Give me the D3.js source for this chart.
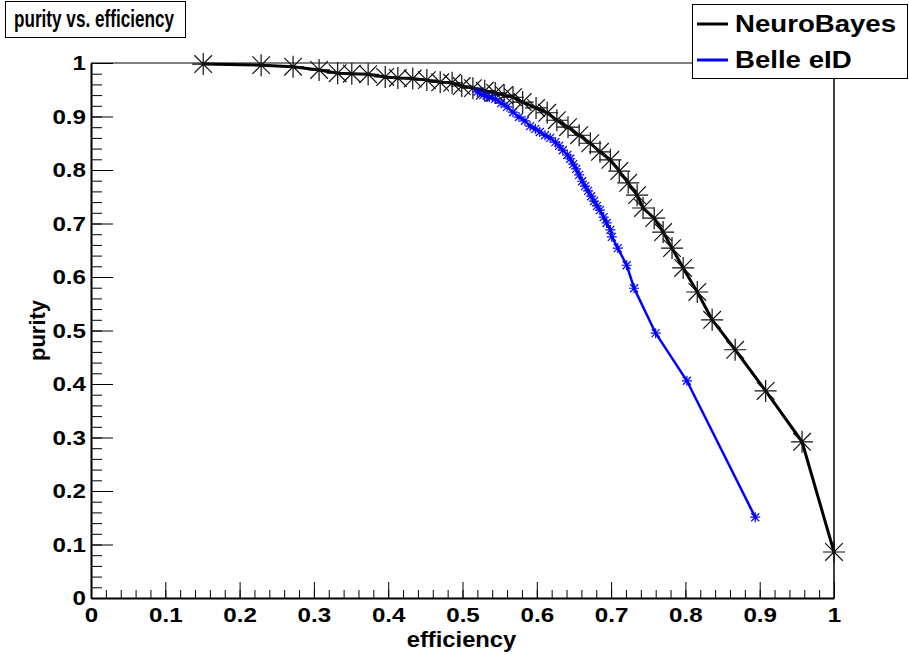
<!DOCTYPE html>
<html>
<head>
<meta charset="utf-8">
<script src="https://cdn.jsdelivr.net/npm/d3@7"></script>
<style>
body { margin: 0; background: #fff; }
text { font-family: "Liberation Sans", Arial, sans-serif; font-weight: bold; }
</style>
</head>
<body>
<div id="chart"></div>
<script>
// NeuroBayes curve
var effNB = [0.151, 0.229, 0.272, 0.307, 0.332, 0.351, 0.373, 0.396, 0.413, 0.433,
  0.452, 0.470, 0.486, 0.499, 0.514, 0.530, 0.544, 0.556, 0.568, 0.581,
  0.599, 0.614, 0.627, 0.642, 0.657, 0.672, 0.685, 0.699, 0.711, 0.723,
  0.735, 0.743, 0.758, 0.770, 0.782, 0.797, 0.816, 0.836, 0.867, 0.908,
  0.957, 1.000];
var purNB = [0.998, 0.996, 0.993, 0.987, 0.981, 0.980, 0.979, 0.974, 0.972, 0.971,
  0.968, 0.964, 0.963, 0.957, 0.953, 0.948, 0.944, 0.940, 0.936, 0.927,
  0.916, 0.907, 0.893, 0.880, 0.865, 0.850, 0.834, 0.819, 0.798, 0.776,
  0.753, 0.729, 0.710, 0.684, 0.654, 0.617, 0.572, 0.520, 0.464, 0.387,
  0.292, 0.086];

// Belle eID curve
var effBelle = [0.520, 0.528, 0.536, 0.544, 0.552, 0.560, 0.568, 0.576, 0.584, 0.591,
  0.598, 0.604, 0.611, 0.618, 0.625, 0.630, 0.635, 0.641, 0.645, 0.649,
  0.653, 0.657, 0.661, 0.665, 0.669, 0.673, 0.677, 0.681, 0.685, 0.690,
  0.694, 0.699, 0.701, 0.709, 0.721, 0.731, 0.760, 0.802, 0.894];
var purBelle = [0.946, 0.940, 0.936, 0.933, 0.925, 0.918, 0.908, 0.899, 0.892, 0.882,
  0.877, 0.871, 0.865, 0.860, 0.852, 0.845, 0.837, 0.828, 0.821, 0.811,
  0.802, 0.791, 0.779, 0.770, 0.761, 0.751, 0.742, 0.733, 0.725, 0.712,
  0.701, 0.688, 0.675, 0.654, 0.622, 0.579, 0.495, 0.406, 0.151];

var xTicks = [0, 0.1, 0.2, 0.3, 0.4, 0.5, 0.6, 0.7, 0.8, 0.9, 1];
var yTicks = [0, 0.1, 0.2, 0.3, 0.4, 0.5, 0.6, 0.7, 0.8, 0.9, 1];
var tickText = ["0", "0.1", "0.2", "0.3", "0.4", "0.5", "0.6", "0.7", "0.8", "0.9", "1"];

var margin = {top: 63, right: 75, bottom: 59, left: 91},
  width = 909 - margin.left - margin.right,
  height = 657 - margin.top - margin.bottom;

var root = d3.select("#chart")
.append("svg")
  .attr("width", 909)
  .attr("height", 657);

var svg = root.append("g")
  .attr("transform", "translate(" + margin.left + "," + margin.top + ")");

var x = d3.scaleLinear().domain([0, 1]).range([0, width]);
var y = d3.scaleLinear().domain([0, 1]).range([height, 0]);

// stretch text sideways a bit, ROOT fonts come out wider than Arial
function stretch(sel, k) {
  sel.each(function() {
    var l = this.getComputedTextLength();
    d3.select(this).attr("textLength", l * k).attr("lengthAdjust", "spacingAndGlyphs");
  });
}

// frame top and right
svg.append("line").attr("x1", 0).attr("x2", width).attr("y1", 0).attr("y2", 0)
  .style("stroke", "#000").style("stroke-width", 1);
svg.append("line").attr("x1", width).attr("x2", width).attr("y1", 0).attr("y2", height)
  .style("stroke", "#000").style("stroke-width", 1.5);

// minor ticks
svg.append("g")
  .attr("transform", "translate(0," + height + ")")
  .call(d3.axisBottom(x).ticks(50).tickSize(-8).tickSizeOuter(0).tickFormat(""))
  .call(function(g) { g.select(".domain").remove(); });
svg.append("g")
  .call(d3.axisLeft(y).ticks(50).tickSize(-11).tickSizeOuter(0).tickFormat(""))
  .call(function(g) { g.select(".domain").remove(); });

// major ticks + labels
var xAxis = svg.append("g")
  .attr("transform", "translate(0," + height + ")")
  .call(d3.axisBottom(x).tickValues(xTicks).tickSize(-16).tickSizeOuter(0).tickPadding(9)
    .tickFormat(function(d, i) { return tickText[i]; }));
var yAxis = svg.append("g")
  .call(d3.axisLeft(y).tickValues(yTicks).tickSize(-22).tickSizeOuter(0).tickPadding(5)
    .tickFormat(function(d, i) { return tickText[i]; }));

[xAxis, yAxis].forEach(function(a) {
  a.select(".domain").style("stroke-width", 2);
  a.selectAll("text").style("font-size", "21px").style("fill", "#000")
    .style("font-family", "'Liberation Sans', Arial, sans-serif").style("font-weight", "bold");
  stretch(a.selectAll("text"), 1.15);
});
svg.selectAll(".tick line").style("stroke", "#000");

// axis titles
var xt = svg.append("text")
  .attr("x", width / 2 - 1)
  .attr("y", height + 49)
  .style("text-anchor", "middle")
  .style("font-size", "22px")
  .text("efficiency");
stretch(xt, 1.08);

svg.append("text")
  .attr("transform", "translate(" + (45 - margin.left) + "," + (height / 2) + ") rotate(-90)")
  .style("text-anchor", "middle")
  .style("font-size", "22px")
  .text("purity");

// star marker (ROOT style 3)
function star(s) {
  var d = s * 0.8;
  return "M" + (-s) + ",0L" + s + ",0M0," + (-s) + "L0," + s +
    "M" + (-d) + "," + (-d) + "L" + d + "," + d + "M" + (-d) + "," + d + "L" + d + "," + (-d);
}

var line = d3.line()
  .x(function(d) { return x(d[0]); })
  .y(function(d) { return y(d[1]); });

var nb = effNB.map(function(e, i) { return [e, purNB[i]]; });
var belle = effBelle.map(function(e, i) { return [e, purBelle[i]]; });

svg.append("path")
  .datum(nb)
  .attr("d", line)
  .style("fill", "none")
  .style("stroke", "#000")
  .style("stroke-width", 3);

svg.selectAll("nbMarker")
  .data(nb)
  .enter().append("path")
  .attr("transform", function(d) { return "translate(" + x(d[0]) + "," + y(d[1]) + ")"; })
  .attr("d", star(11))
  .style("fill", "none")
  .style("stroke", "#111")
  .style("stroke-width", 1.2);

svg.append("path")
  .datum(belle)
  .attr("d", line)
  .style("fill", "none")
  .style("stroke", "#0000ff")
  .style("stroke-width", 2.5);

svg.selectAll("belleMarker")
  .data(belle)
  .enter().append("path")
  .attr("transform", function(d) { return "translate(" + x(d[0]) + "," + y(d[1]) + ")"; })
  .attr("d", star(5))
  .style("fill", "none")
  .style("stroke", "#0000ff")
  .style("stroke-width", 1.2);

// title box
root.append("rect")
  .attr("x", 5.5).attr("y", 1.5).attr("width", 180).attr("height", 36)
  .style("fill", "#fff").style("stroke", "#000").style("stroke-width", 1);
root.append("text")
  .attr("x", 94)
  .attr("y", 27)
  .style("text-anchor", "middle")
  .style("font-size", "23px")
  .attr("textLength", 160)
  .attr("lengthAdjust", "spacingAndGlyphs")
  .text("purity vs. efficiency");

// legend
root.append("rect")
  .attr("x", 692.5).attr("y", 4.5).attr("width", 215).attr("height", 74)
  .style("fill", "#fff").style("stroke", "#000").style("stroke-width", 1);

var legNames = ["NeuroBayes", "Belle eID"];
var legColors = ["#000", "#0000ff"];
var leg = root.selectAll("legItem")
  .data(legNames)
  .enter().append("g")
  .attr("transform", function(d, i) { return "translate(0," + (24 + i * 36) + ")"; });
leg.append("line")
  .attr("x1", 697).attr("x2", 728).attr("y1", 0).attr("y2", 0)
  .style("stroke", function(d, i) { return legColors[i]; })
  .style("stroke-width", 3);
var lt = leg.append("text")
  .attr("x", 735)
  .attr("y", 8)
  .style("font-size", "23px")
  .text(function(d) { return d; });
stretch(lt, 1.2);
</script>
</body>
</html>
